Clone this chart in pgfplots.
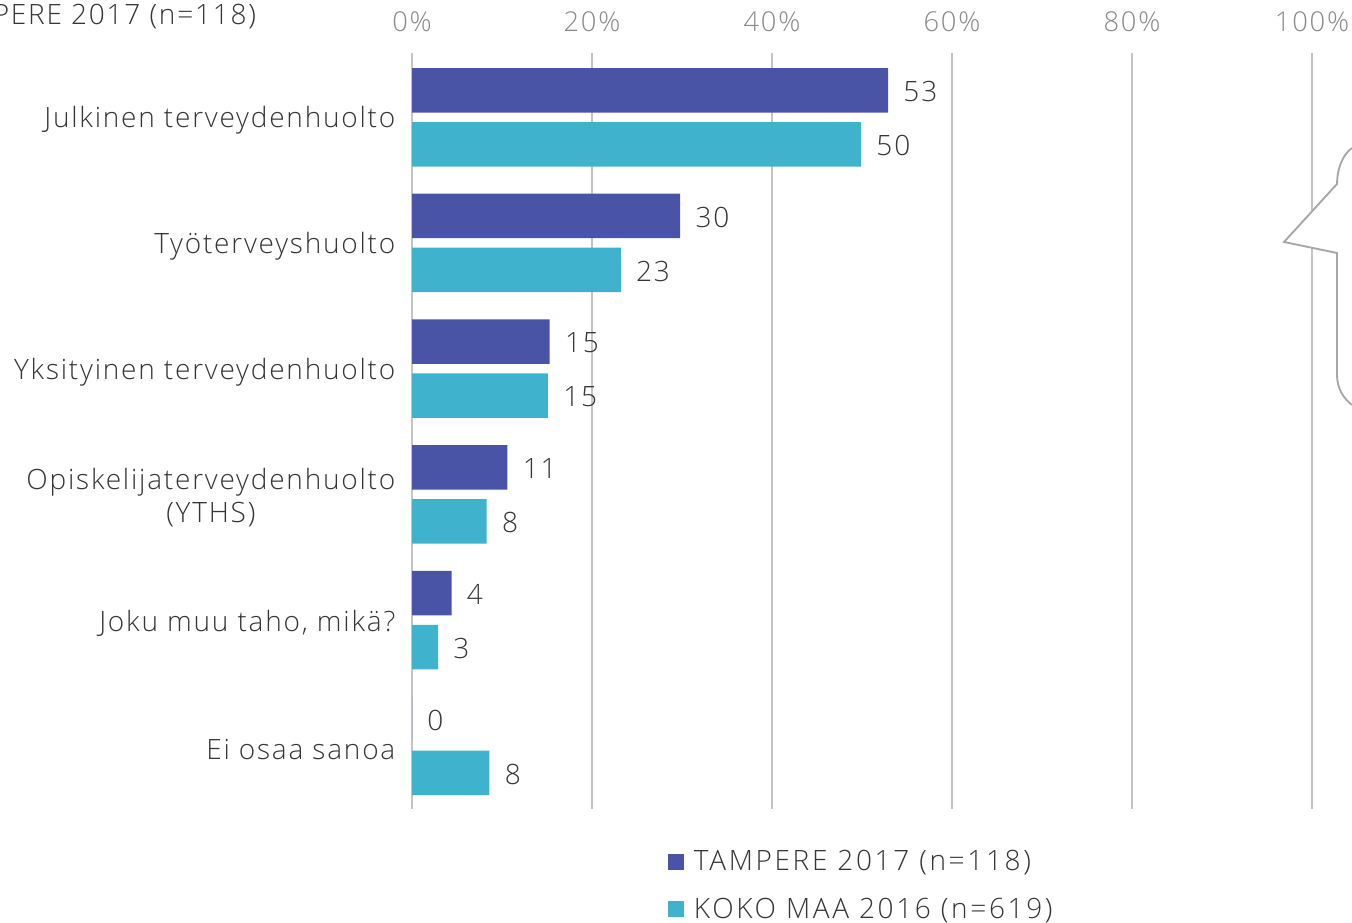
\documentclass[border=0pt]{standalone}
\usepackage{pgfplots}
\usepackage{fontspec}
\pgfplotsset{compat=1.18}
\setmainfont[LetterSpace=6.4]{Open Sans Light}
\definecolor{tampere}{HTML}{4954A6}
\definecolor{kokomaa}{HTML}{3FB2CE}
\definecolor{gridgray}{HTML}{C4C4C4}
\definecolor{ticktext}{HTML}{8A8A8A}
\definecolor{labeltext}{HTML}{363636}
% 1 px of the reference = 0.75pt
\begin{document}
\begin{tikzpicture}
\useasboundingbox (0,0) rectangle (1014pt,692.25pt);
\begin{axis}[
	at={(309pt,85.5pt)}, anchor=south west,
	scale only axis, width=675pt, height=567pt,
	xmin=0, xmax=100, ymin=-0.503, ymax=5.5115,
	xbar, clip=false,
	bar width=33.4pt,
	axis line style={draw=none},
	major tick length=0pt,
	xtick={0,20,...,100},
	xticklabel={\pgfmathprintnumber{\tick}\%},
	xticklabel pos=top,
	xticklabel style={text=ticktext, font=\fontsize{20.5}{24}\selectfont, yshift=12pt},
	/pgf/number format/assume math mode=true,
	xmajorgrids,
	grid style={gridgray, line width=1.5pt},
	ytick={0,1,2,3,4,5},
	yticklabels={Ei osaa sanoa, {Joku muu taho, mikä?}, {Opiskelijaterveydenhuolto\\(YTHS)}, Yksityinen terveydenhuolto, Työterveyshuolto, Julkinen terveydenhuolto},
	yticklabel style={text=labeltext, font=\fontsize{21}{25}\selectfont, align=center, xshift=-9pt, yshift=-2.5pt},
	point meta=explicit symbolic,
	nodes near coords,
	nodes near coords style={anchor=west, text=labeltext, font=\fontsize{21}{24}\selectfont, xshift=8pt, yshift=-1pt},
	legend style={at={(189pt,-27pt)}, anchor=north west, draw=none, fill=none, row sep=15pt,
		font=\fontsize{21}{24}\addfontfeature{LetterSpace=9.5}\selectfont, text=labeltext},
	legend cell align=left,
	legend image code/.code={\fill[#1] (0pt,-6pt) rectangle (12pt,6pt); \path (17.25pt,0pt);},
]
\addplot[draw=none, fill=tampere, bar shift=20.25pt] coordinates {
	(52.9,5) [53]
	(29.8,4) [30]
	(15.3,3) [15]
	(10.6,2) [11]
	(4.4,1) [4]
	(0,0) [0]
};
\addplot[draw=none, fill=kokomaa, bar shift=-20.25pt] coordinates {
	(49.9,5) [50]
	(23.2,4) [23]
	(15.1,3) [15]
	(8.3,2) [8]
	(2.9,1) [3]
	(8.6,0) [8]
};
\legend{TAMPERE 2017 (n=118), KOKO MAA 2016 (n=619)}
\end{axis}
\node[anchor=east, text=labeltext, font=\fontsize{21}{24}\selectfont] at (195.5pt,680pt) {PERE 2017 (n=118)};
\begin{scope}[x=0.75pt, y=-0.75pt, shift={(0pt,692.25pt)}]
\fill[white] (1352,148) .. controls (1342,155) and (1337,170) .. (1337,184) -- (1284,242) -- (1337,253) -- (1337,375) .. controls (1337,388) and (1343,398) .. (1352,405) -- (1360,405) -- (1360,148) -- cycle;
\draw[gridgray!85!black, line width=1.4pt] (1352,148) .. controls (1342,155) and (1337,170) .. (1337,184) -- (1284,242) -- (1337,253) -- (1337,375) .. controls (1337,388) and (1343,398) .. (1352,405);
\end{scope}
\end{tikzpicture}
\end{document}
